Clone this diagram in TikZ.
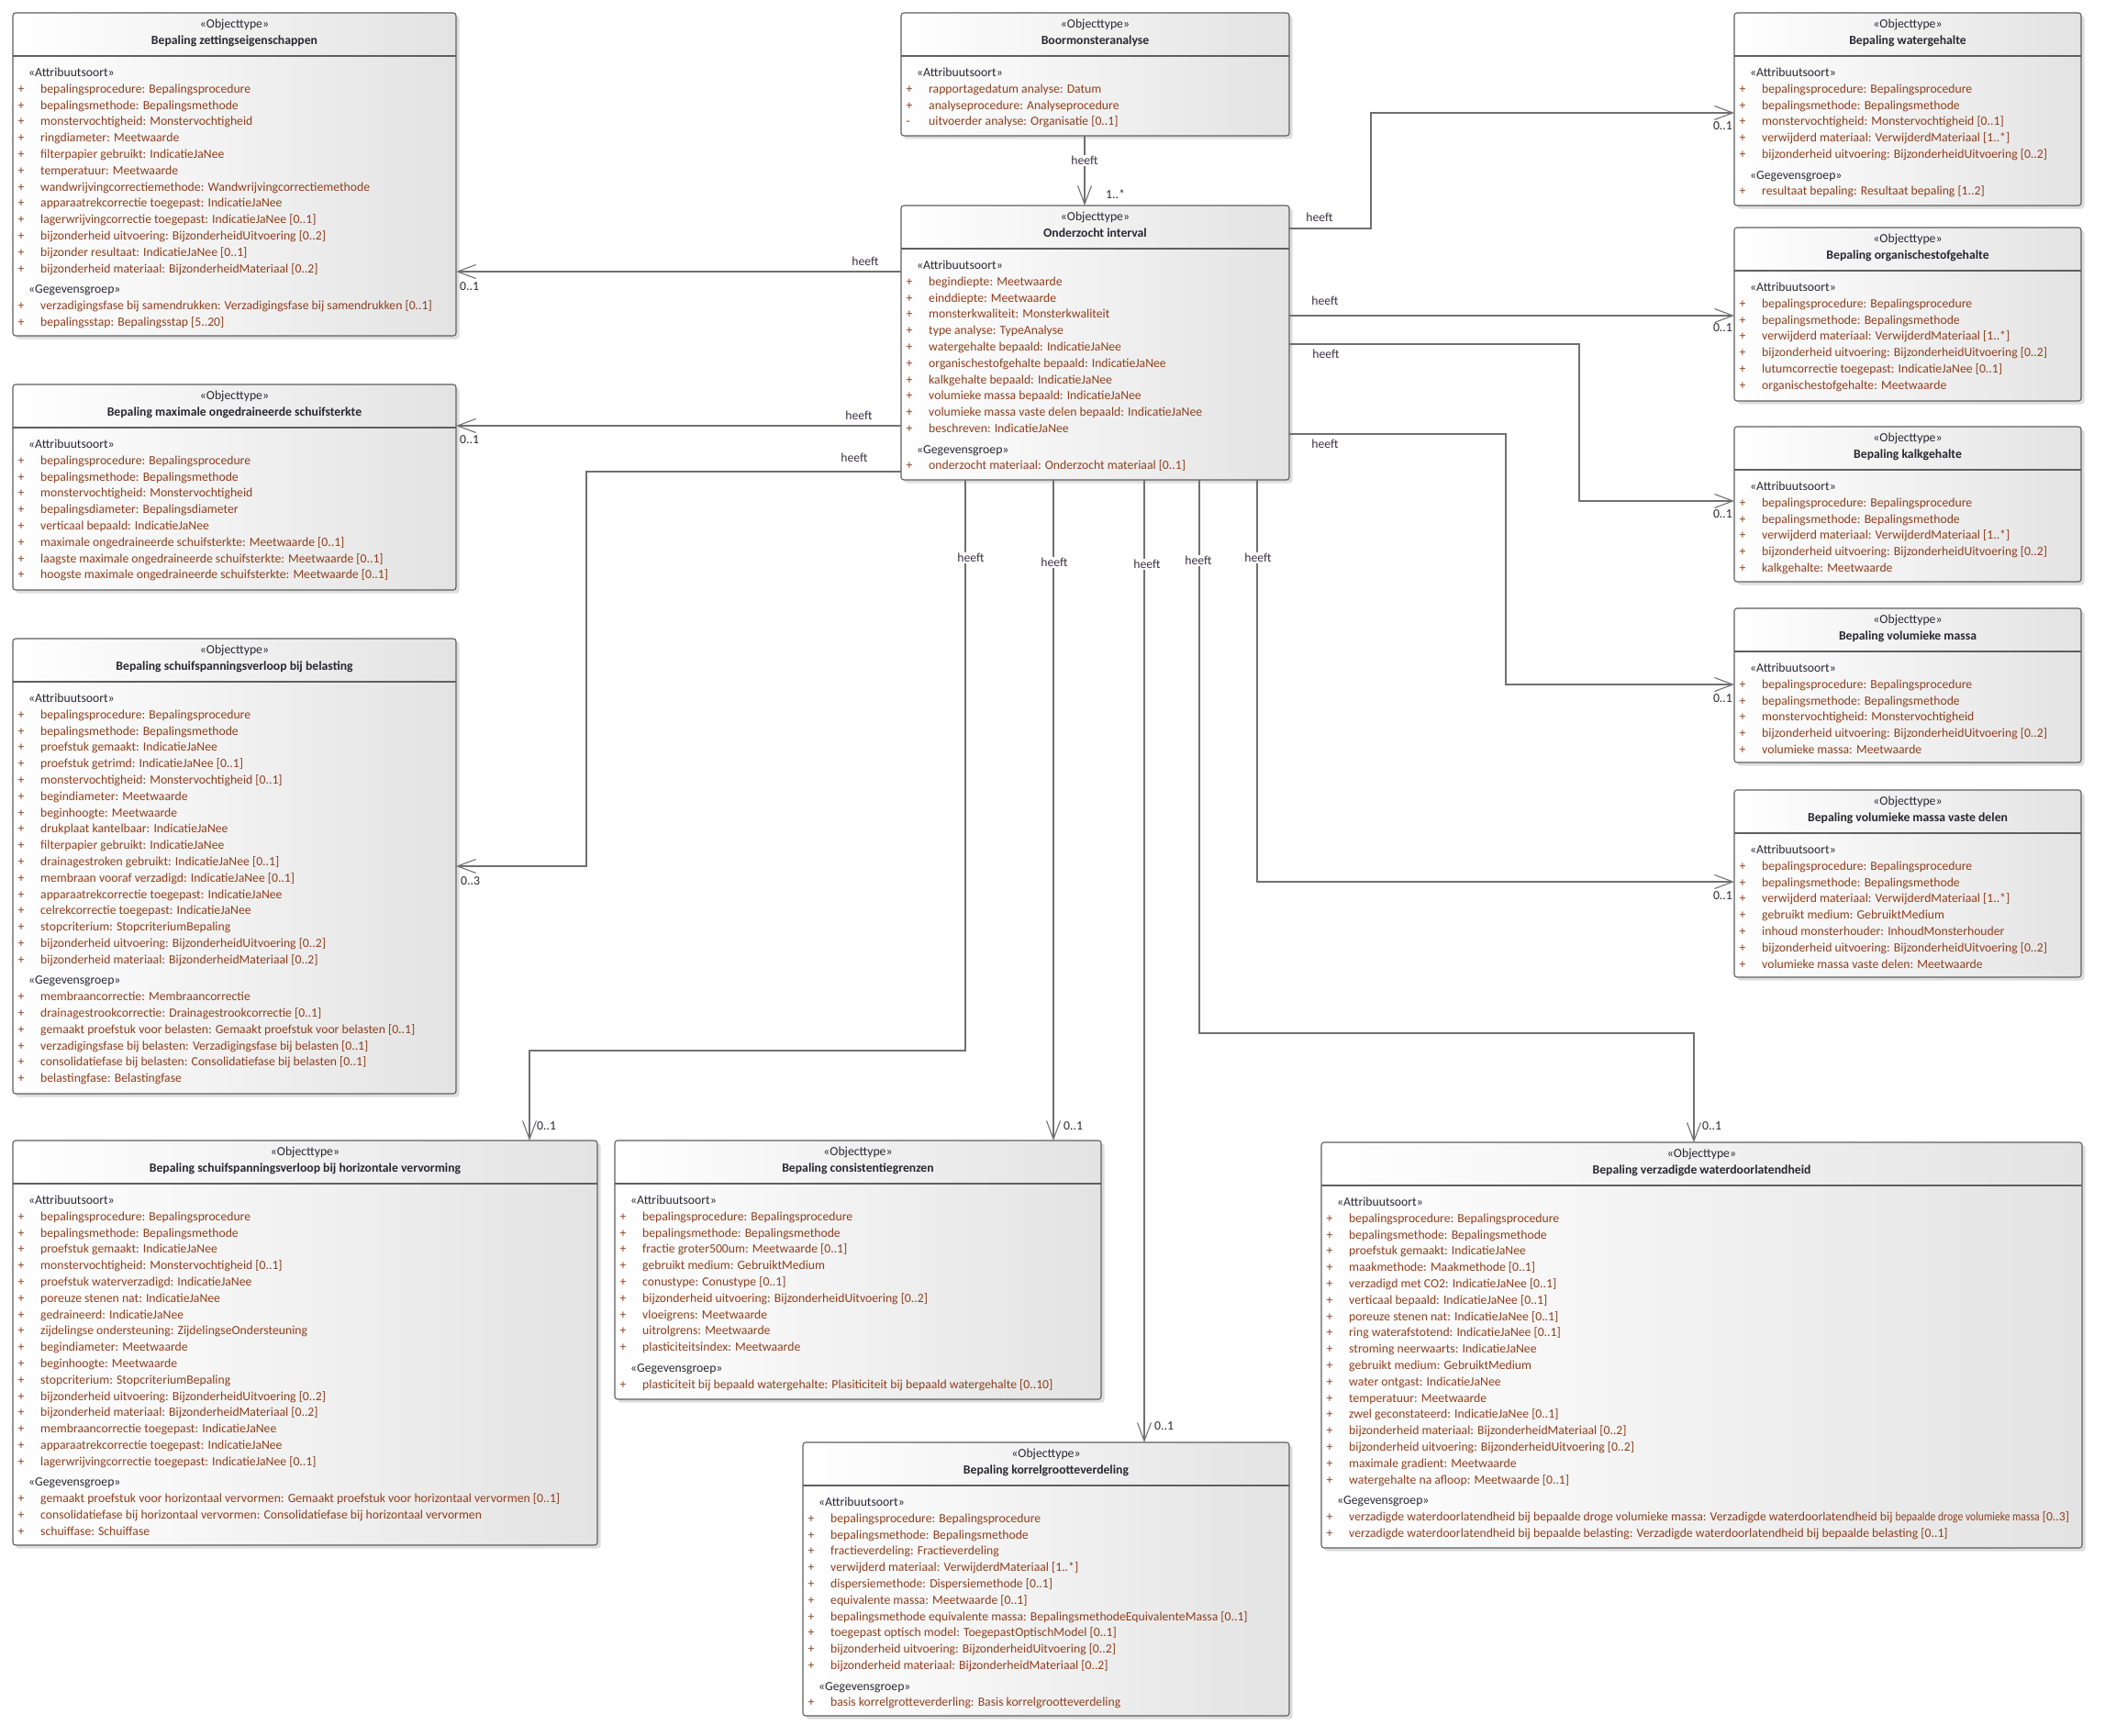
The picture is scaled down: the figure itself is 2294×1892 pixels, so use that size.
\documentclass[tikz,border=0pt]{standalone}
\usepackage{fontspec}
\setmainfont{Carlito}
\usepackage{graphicx}
\usetikzlibrary{arrows.meta,shadows,calc}
\definecolor{attrc}{RGB}{142,62,28}
\definecolor{boxc}{RGB}{95,95,95}
\definecolor{linec}{RGB}{112,112,112}
\definecolor{lblc}{RGB}{58,50,68}
\definecolor{darkt}{RGB}{40,40,48}
\newcommand\fs{\fontsize{13.7}{17.8}\selectfont}
\newcount\bxrowno
\newdimen\bxrowy
\def\curbox{}
\newcommand\startbox[6]{%
  \node[umlbox, minimum width=#4pt-#2pt, minimum height=#5pt-#3pt, anchor=north west] (#1) at (#2,#3) {};
  \draw[sepline] ([yshift=-47pt]#1.north west) -- ([yshift=-47pt]#1.north east);
  \node[stereo, anchor=base] (#1-s) at ([yshift=-16.5pt]#1.north) {«Objecttype»};
  \node[titlef, anchor=base] (#1-t) at ([yshift=-34.5pt]#1.north) {#6};
  \gdef\curbox{#1}\global\bxrowy=69.5pt\global\bxrowno=0\relax
}
\newcommand\sect[1]{%
  \global\advance\bxrowno 1
  \node[stereo, anchor=base west] (\curbox-h\the\bxrowno) at ([xshift=17pt,yshift=-\bxrowy]\curbox.north west) {«#1»};
  \global\advance\bxrowy 17.8pt\relax}
\newcommand\gap{\global\advance\bxrowy 4.7pt\relax}
\newcommand\arow[2][+]{%
  \global\advance\bxrowno 1
  \node[attr, anchor=base west] (\curbox-v\the\bxrowno) at ([xshift=5.5pt,yshift=-\bxrowy]\curbox.north west) {#1};
  \node[attr, anchor=base west] (\curbox-a\the\bxrowno) at ([xshift=30pt,yshift=-\bxrowy]\curbox.north west) {#2};
  \global\advance\bxrowy 17.8pt\relax}
\begin{document}
\begin{tikzpicture}[x=1pt,y=-1pt,
  umlbox/.style={draw=boxc, line width=1.1pt, rounded corners=3pt, left color=white, right color=black!11,
     outer sep=0pt, inner sep=0pt, general shadow={fill=black!13, shadow xshift=3.5pt, shadow yshift=-3.5pt}},
  sepline/.style={draw=boxc, line width=1.1pt},
  stereo/.style={font=\fs, text=darkt, inner sep=0pt},
  titlef/.style={font=\fs\bfseries, text=darkt, inner sep=0pt},
  attr/.style={font=\fs, text=attrc, inner sep=0pt},
  assoc/.style={draw=linec, line width=1.1pt, -{Straight Barb[length=20pt,width=15pt]}},
  lbl/.style={font=\fs, text=lblc, inner sep=1pt},
  lblw/.style={font=\fs, text=lblc, fill=white, inner sep=1.5pt},
  mult/.style={font=\fs, text=darkt, inner sep=0pt}]
\fill[white] (0,0) rectangle (2294,1892);
\useasboundingbox (0,0) rectangle (2294,1892);

% ---------- boxes ----------
\startbox{b1}{14}{14}{497}{366}{Bepaling zettingseigenschappen}
\sect{Attribuutsoort}
\arow{bepalingsprocedure: Bepalingsprocedure}
\arow{bepalingsmethode: Bepalingsmethode}
\arow{monstervochtigheid: Monstervochtigheid}
\arow{ringdiameter: Meetwaarde}
\arow{filterpapier gebruikt: IndicatieJaNee}
\arow{temperatuur: Meetwaarde}
\arow{wandwrijvingcorrectiemethode: Wandwrijvingcorrectiemethode}
\arow{apparaatrekcorrectie toegepast: IndicatieJaNee}
\arow{lagerwrijvingcorrectie toegepast: IndicatieJaNee [0..1]}
\arow{bijzonderheid uitvoering: BijzonderheidUitvoering [0..2]}
\arow{bijzonder resultaat: IndicatieJaNee [0..1]}
\arow{bijzonderheid materiaal: BijzonderheidMateriaal [0..2]}
\gap\sect{Gegevensgroep}
\arow{verzadigingsfase bij samendrukken: Verzadigingsfase bij samendrukken [0..1]}
\arow{bepalingsstap: Bepalingsstap [5..20]}

\startbox{bma}{982}{14}{1405}{148}{Boormonsteranalyse}
\sect{Attribuutsoort}
\arow{rapportagedatum analyse: Datum}
\arow{analyseprocedure: Analyseprocedure}
\arow[-]{uitvoerder analyse: Organisatie [0..1]}

\startbox{bwg}{1890}{14}{2268}{224}{Bepaling watergehalte}
\sect{Attribuutsoort}
\arow{bepalingsprocedure: Bepalingsprocedure}
\arow{bepalingsmethode: Bepalingsmethode}
\arow{monstervochtigheid: Monstervochtigheid [0..1]}
\arow{verwijderd materiaal: VerwijderdMateriaal [1..*]}
\arow{bijzonderheid uitvoering: BijzonderheidUitvoering [0..2]}
\gap\sect{Gegevensgroep}
\arow{resultaat bepaling: Resultaat bepaling [1..2]}

\startbox{oi}{982}{224}{1405}{523}{Onderzocht interval}
\sect{Attribuutsoort}
\arow{begindiepte: Meetwaarde}
\arow{einddiepte: Meetwaarde}
\arow{monsterkwaliteit: Monsterkwaliteit}
\arow{type analyse: TypeAnalyse}
\arow{watergehalte bepaald: IndicatieJaNee}
\arow{organischestofgehalte bepaald: IndicatieJaNee}
\arow{kalkgehalte bepaald: IndicatieJaNee}
\arow{volumieke massa bepaald: IndicatieJaNee}
\arow{volumieke massa vaste delen bepaald: IndicatieJaNee}
\arow{beschreven: IndicatieJaNee}
\gap\sect{Gegevensgroep}
\arow{onderzocht materiaal: Onderzocht materiaal [0..1]}

\startbox{bos}{1890}{248}{2268}{437}{Bepaling organischestofgehalte}
\sect{Attribuutsoort}
\arow{bepalingsprocedure: Bepalingsprocedure}
\arow{bepalingsmethode: Bepalingsmethode}
\arow{verwijderd materiaal: VerwijderdMateriaal [1..*]}
\arow{bijzonderheid uitvoering: BijzonderheidUitvoering [0..2]}
\arow{lutumcorrectie toegepast: IndicatieJaNee [0..1]}
\arow{organischestofgehalte: Meetwaarde}

\startbox{bmo}{14}{419}{497}{643}{Bepaling maximale ongedraineerde schuifsterkte}
\sect{Attribuutsoort}
\arow{bepalingsprocedure: Bepalingsprocedure}
\arow{bepalingsmethode: Bepalingsmethode}
\arow{monstervochtigheid: Monstervochtigheid}
\arow{bepalingsdiameter: Bepalingsdiameter}
\arow{verticaal bepaald: IndicatieJaNee}
\arow{maximale ongedraineerde schuifsterkte: Meetwaarde [0..1]}
\arow{laagste maximale ongedraineerde schuifsterkte: Meetwaarde [0..1]}
\arow{hoogste maximale ongedraineerde schuifsterkte: Meetwaarde [0..1]}

\startbox{bkg}{1890}{465}{2268}{634}{Bepaling kalkgehalte}
\sect{Attribuutsoort}
\arow{bepalingsprocedure: Bepalingsprocedure}
\arow{bepalingsmethode: Bepalingsmethode}
\arow{verwijderd materiaal: VerwijderdMateriaal [1..*]}
\arow{bijzonderheid uitvoering: BijzonderheidUitvoering [0..2]}
\arow{kalkgehalte: Meetwaarde}

\startbox{bvm}{1890}{663}{2268}{831}{Bepaling volumieke massa}
\sect{Attribuutsoort}
\arow{bepalingsprocedure: Bepalingsprocedure}
\arow{bepalingsmethode: Bepalingsmethode}
\arow{monstervochtigheid: Monstervochtigheid}
\arow{bijzonderheid uitvoering: BijzonderheidUitvoering [0..2]}
\arow{volumieke massa: Meetwaarde}

\startbox{bvd}{1890}{861}{2268}{1065}{Bepaling volumieke massa vaste delen}
\sect{Attribuutsoort}
\arow{bepalingsprocedure: Bepalingsprocedure}
\arow{bepalingsmethode: Bepalingsmethode}
\arow{verwijderd materiaal: VerwijderdMateriaal [1..*]}
\arow{gebruikt medium: GebruiktMedium}
\arow{inhoud monsterhouder: InhoudMonsterhouder}
\arow{bijzonderheid uitvoering: BijzonderheidUitvoering [0..2]}
\arow{volumieke massa vaste delen: Meetwaarde}

\startbox{bsb}{14}{696}{497}{1192}{Bepaling schuifspanningsverloop bij belasting}
\sect{Attribuutsoort}
\arow{bepalingsprocedure: Bepalingsprocedure}
\arow{bepalingsmethode: Bepalingsmethode}
\arow{proefstuk gemaakt: IndicatieJaNee}
\arow{proefstuk getrimd: IndicatieJaNee [0..1]}
\arow{monstervochtigheid: Monstervochtigheid [0..1]}
\arow{begindiameter: Meetwaarde}
\arow{beginhoogte: Meetwaarde}
\arow{drukplaat kantelbaar: IndicatieJaNee}
\arow{filterpapier gebruikt: IndicatieJaNee}
\arow{drainagestroken gebruikt: IndicatieJaNee [0..1]}
\arow{membraan vooraf verzadigd: IndicatieJaNee [0..1]}
\arow{apparaatrekcorrectie toegepast: IndicatieJaNee}
\arow{celrekcorrectie toegepast: IndicatieJaNee}
\arow{stopcriterium: StopcriteriumBepaling}
\arow{bijzonderheid uitvoering: BijzonderheidUitvoering [0..2]}
\arow{bijzonderheid materiaal: BijzonderheidMateriaal [0..2]}
\gap\sect{Gegevensgroep}
\arow{membraancorrectie: Membraancorrectie}
\arow{drainagestrookcorrectie: Drainagestrookcorrectie [0..1]}
\arow{gemaakt proefstuk voor belasten: Gemaakt proefstuk voor belasten [0..1]}
\arow{verzadigingsfase bij belasten: Verzadigingsfase bij belasten [0..1]}
\arow{consolidatiefase bij belasten: Consolidatiefase bij belasten [0..1]}
\arow{belastingfase: Belastingfase}

\startbox{bhv}{14}{1243}{651}{1684}{Bepaling schuifspanningsverloop bij horizontale vervorming}
\sect{Attribuutsoort}
\arow{bepalingsprocedure: Bepalingsprocedure}
\arow{bepalingsmethode: Bepalingsmethode}
\arow{proefstuk gemaakt: IndicatieJaNee}
\arow{monstervochtigheid: Monstervochtigheid [0..1]}
\arow{proefstuk waterverzadigd: IndicatieJaNee}
\arow{poreuze stenen nat: IndicatieJaNee}
\arow{gedraineerd: IndicatieJaNee}
\arow{zijdelingse ondersteuning: ZijdelingseOndersteuning}
\arow{begindiameter: Meetwaarde}
\arow{beginhoogte: Meetwaarde}
\arow{stopcriterium: StopcriteriumBepaling}
\arow{bijzonderheid uitvoering: BijzonderheidUitvoering [0..2]}
\arow{bijzonderheid materiaal: BijzonderheidMateriaal [0..2]}
\arow{membraancorrectie toegepast: IndicatieJaNee}
\arow{apparaatrekcorrectie toegepast: IndicatieJaNee}
\arow{lagerwrijvingcorrectie toegepast: IndicatieJaNee [0..1]}
\gap\sect{Gegevensgroep}
\arow{gemaakt proefstuk voor horizontaal vervormen: Gemaakt proefstuk voor horizontaal vervormen [0..1]}
\arow{consolidatiefase bij horizontaal vervormen: Consolidatiefase bij horizontaal vervormen}
\arow{schuiffase: Schuiffase}

\startbox{bcg}{670}{1243}{1200}{1525}{Bepaling consistentiegrenzen}
\sect{Attribuutsoort}
\arow{bepalingsprocedure: Bepalingsprocedure}
\arow{bepalingsmethode: Bepalingsmethode}
\arow{fractie groter500um: Meetwaarde [0..1]}
\arow{gebruikt medium: GebruiktMedium}
\arow{conustype: Conustype [0..1]}
\arow{bijzonderheid uitvoering: BijzonderheidUitvoering [0..2]}
\arow{vloeigrens: Meetwaarde}
\arow{uitrolgrens: Meetwaarde}
\arow{plasticiteitsindex: Meetwaarde}
\gap\sect{Gegevensgroep}
\arow{plasticiteit bij bepaald watergehalte: Plasiticiteit bij bepaald watergehalte [0..10]}

\startbox{bvw}{1440}{1245}{2269}{1687}{Bepaling verzadigde waterdoorlatendheid}
\sect{Attribuutsoort}
\arow{bepalingsprocedure: Bepalingsprocedure}
\arow{bepalingsmethode: Bepalingsmethode}
\arow{proefstuk gemaakt: IndicatieJaNee}
\arow{maakmethode: Maakmethode [0..1]}
\arow{verzadigd met CO2: IndicatieJaNee [0..1]}
\arow{verticaal bepaald: IndicatieJaNee [0..1]}
\arow{poreuze stenen nat: IndicatieJaNee [0..1]}
\arow{ring waterafstotend: IndicatieJaNee [0..1]}
\arow{stroming neerwaarts: IndicatieJaNee}
\arow{gebruikt medium: GebruiktMedium}
\arow{water ontgast: IndicatieJaNee}
\arow{temperatuur: Meetwaarde}
\arow{zwel geconstateerd: IndicatieJaNee [0..1]}
\arow{bijzonderheid materiaal: BijzonderheidMateriaal [0..2]}
\arow{bijzonderheid uitvoering: BijzonderheidUitvoering [0..2]}
\arow{maximale gradient: Meetwaarde}
\arow{watergehalte na afloop: Meetwaarde [0..1]}
\gap\sect{Gegevensgroep}
\arow{verzadigde waterdoorlatendheid bij bepaalde droge volumieke massa: Verzadigde waterdoorlatendheid bij \resizebox{157pt}{\height}{bepaalde droge volumieke massa} [0..3]}
\arow{verzadigde waterdoorlatendheid bij bepaalde belasting: Verzadigde waterdoorlatendheid bij bepaalde belasting [0..1]}

\startbox{bkv}{875}{1572}{1405}{1870}{Bepaling korrelgrootteverdeling}
\sect{Attribuutsoort}
\arow{bepalingsprocedure: Bepalingsprocedure}
\arow{bepalingsmethode: Bepalingsmethode}
\arow{fractieverdeling: Fractieverdeling}
\arow{verwijderd materiaal: VerwijderdMateriaal [1..*]}
\arow{dispersiemethode: Dispersiemethode [0..1]}
\arow{equivalente massa: Meetwaarde [0..1]}
\arow{bepalingsmethode equivalente massa: BepalingsmethodeEquivalenteMassa [0..1]}
\arow{toegepast optisch model: ToegepastOptischModel [0..1]}
\arow{bijzonderheid uitvoering: BijzonderheidUitvoering [0..2]}
\arow{bijzonderheid materiaal: BijzonderheidMateriaal [0..2]}
\gap\sect{Gegevensgroep}
\arow{basis korrelgrotteverderling: Basis korrelgrootteverdeling}

% ---------- connectors ----------
% Boormonsteranalyse -> Onderzocht interval
\coordinate (a0) at ([xshift=-11.5pt]bma.south);
\coordinate (a0e) at (a0 |- oi.north);
\draw[assoc] (a0) -- (a0e);
\node[lblw] (h0) at ([yshift=-27pt]a0) {heeft};
\node[mult, anchor=west] (m0) at ([xshift=23pt,yshift=12pt]a0e) {1..*};

% left side
\coordinate (s1) at ([yshift=-72pt]oi.north west);
\coordinate (e1) at (s1 -| b1.east);
\draw[assoc] (s1) -- (e1);
\node[lbl] (h1) at ([xshift=-39pt,yshift=11pt]s1) {heeft};
\node[mult, anchor=west] (m1) at ([xshift=4pt,yshift=-16pt]e1) {0..1};

\coordinate (s2) at ([yshift=-240pt]oi.north west);
\coordinate (e2) at (s2 -| bmo.east);
\draw[assoc] (s2) -- (e2);
\node[lbl] (h2) at ([xshift=-46pt,yshift=11pt]s2) {heeft};
\node[mult, anchor=west] (m2) at ([xshift=4pt,yshift=-15pt]e2) {0..1};

\coordinate (s3) at ([yshift=-290pt]oi.north west);
\coordinate (e3) at ([yshift=-248pt]bsb.north east);
\draw[assoc] (s3) -| ([xshift=142pt]e3) -- (e3);
\node[lbl] (h3) at ([xshift=-51pt,yshift=15pt]s3) {heeft};
\node[mult, anchor=west] (m3) at ([xshift=5pt,yshift=-16pt]e3) {0..3};

% right side
\coordinate (r1) at ([yshift=-25pt]oi.north east);
\coordinate (f1) at ([yshift=-109pt]bwg.north west);
\draw[assoc] (r1) -| ([xshift=-396pt]f1) -- (f1);
\node[lbl] (h4) at ([xshift=33pt,yshift=12pt]r1) {heeft};
\node[mult, anchor=east] (m4) at ([xshift=-2pt,yshift=-14pt]f1) {0..1};

\coordinate (r2) at ([yshift=-120pt]oi.north east);
\coordinate (f2) at (r2 -| bos.west);
\draw[assoc] (r2) -- (f2);
\node[lbl] (h5) at ([xshift=39pt,yshift=16pt]r2) {heeft};
\node[mult, anchor=east] (m5) at ([xshift=-2pt,yshift=-13pt]f2) {0..1};

\coordinate (r3) at ([yshift=-151pt]oi.north east);
\coordinate (f3) at ([yshift=-81pt]bkg.north west);
\draw[assoc] (r3) -| ([xshift=-169pt]f3) -- (f3);
\node[lbl] (h6) at ([xshift=40pt,yshift=-11pt]r3) {heeft};
\node[mult, anchor=east] (m6) at ([xshift=-2pt,yshift=-14pt]f3) {0..1};

\coordinate (r4) at ([yshift=-249pt]oi.north east);
\coordinate (f4) at ([yshift=-83pt]bvm.north west);
\draw[assoc] (r4) -| ([xshift=-249pt]f4) -- (f4);
\node[lbl] (h7) at ([xshift=39pt,yshift=-11pt]r4) {heeft};
\node[mult, anchor=east] (m7) at ([xshift=-2pt,yshift=-15pt]f4) {0..1};

% bottom side
\coordinate (d1) at ([xshift=70pt]oi.south west);
\coordinate (g1) at ([xshift=563pt]bhv.north west);
\draw[assoc] (d1) |- ([yshift=98pt]g1) -- (g1);
\node[lblw] (h8) at ([xshift=6pt,yshift=-85pt]d1) {heeft};
\node[mult, anchor=west] (m8) at ([xshift=8pt,yshift=16pt]g1) {0..1};

\coordinate (d2) at ([xshift=166pt]oi.south west);
\coordinate (g2) at (d2 |- bcg.north);
\draw[assoc] (d2) -- (g2);
\node[lblw] (h9) at ([xshift=1pt,yshift=-90pt]d2) {heeft};
\node[mult, anchor=west] (m9) at ([xshift=11pt,yshift=16pt]g2) {0..1};

\coordinate (d3) at ([xshift=265pt]oi.south west);
\coordinate (g3) at (d3 |- bkv.north);
\draw[assoc] (d3) -- (g3);
\node[lblw] (h10) at ([xshift=3pt,yshift=-92pt]d3) {heeft};
\node[mult, anchor=west] (m10) at ([xshift=11pt,yshift=18pt]g3) {0..1};

\coordinate (d4) at ([xshift=325pt]oi.south west);
\coordinate (g4) at ([xshift=406pt]bvw.north west);
\draw[assoc] (d4) |- ([yshift=119pt]g4) -- (g4);
\node[lblw] (h11) at ([xshift=-1pt,yshift=-88pt]d4) {heeft};
\node[mult, anchor=west] (m11) at ([xshift=9pt,yshift=18pt]g4) {0..1};

\coordinate (d5) at ([xshift=388pt]oi.south west);
\coordinate (g5) at ([yshift=-100pt]bvd.north west);
\draw[assoc] (d5) |- (g5);
\node[lblw] (h12) at ([xshift=1pt,yshift=-85pt]d5) {heeft};
\node[mult, anchor=east] (m12) at ([xshift=-2pt,yshift=-15pt]g5) {0..1};
\end{tikzpicture}
\end{document}
